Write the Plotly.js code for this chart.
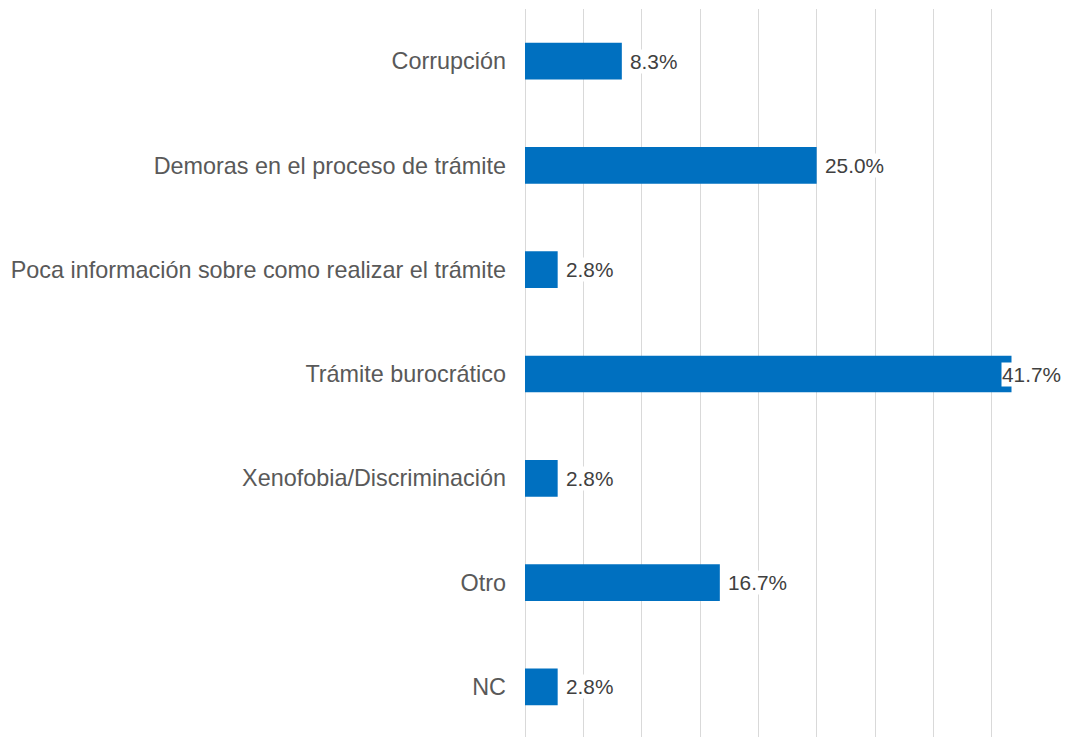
<!DOCTYPE html>
<html>
<head>
<meta charset="utf-8">
<script src="https://cdn.plot.ly/plotly-3.0.1.min.js"></script>
<style>
html, body { margin: 0; padding: 0; overflow: hidden; background: #fff; }
#chart { width: 1068px; height: 739px; }
</style>
</head>
<body>
<div id="chart"></div>
<script>
const categories = [
  "Corrupción",
  "Demoras en el proceso de trámite",
  "Poca información sobre como realizar el trámite",
  "Trámite burocrático",
  "Xenofobia/Discriminación",
  "Otro",
  "NC"
];
const values = [8.3, 25.0, 2.8, 41.7, 2.8, 16.7, 2.8];
const xMax = 45;

const labelFont = { family: "Liberation Sans, Arial, sans-serif", size: 20.8, color: "#404040" };

const annotations = values.map((v, i) => ({
  x: v,
  y: categories[i],
  xref: "x",
  yref: "y",
  text: v.toFixed(1) + "%",
  showarrow: false,
  xanchor: "left",
  yanchor: "middle",
  xshift: (v > xMax - 5) ? -11 : 7,
  bgcolor: "#ffffff",
  borderpad: 0,
  font: labelFont
}));

const trace = {
  type: "bar",
  orientation: "h",
  x: values,
  y: categories,
  width: 0.352,
  marker: { color: "#0070C0" },
  hoverinfo: "x+y"
};

const layout = {
  width: 1068,
  height: 739,
  margin: { l: 525, r: 18, t: 9, b: 0, pad: 0 },
  paper_bgcolor: "#ffffff",
  plot_bgcolor: "#ffffff",
  showlegend: false,
  font: { family: "Liberation Sans, Arial, sans-serif" },
  xaxis: {
    range: [0, xMax],
    dtick: 5,
    tick0: 0,
    showgrid: true,
    gridcolor: "#d9d9d9",
    gridwidth: 1,
    zeroline: true,
    zerolinecolor: "#d9d9d9",
    zerolinewidth: 1,
    showticklabels: false,
    ticks: "",
    showline: false,
    fixedrange: true
  },
  yaxis: {
    type: "category",
    autorange: "reversed",
    showgrid: false,
    zeroline: false,
    showline: false,
    ticks: "",
    ticklabelstandoff: 18,
    tickfont: { family: "Liberation Sans, Arial, sans-serif", size: 23.4, color: "#595959" },
    fixedrange: true
  },
  annotations: annotations
};

Plotly.newPlot("chart", [trace], layout, { displayModeBar: false, staticPlot: true });
</script>
</body>
</html>
